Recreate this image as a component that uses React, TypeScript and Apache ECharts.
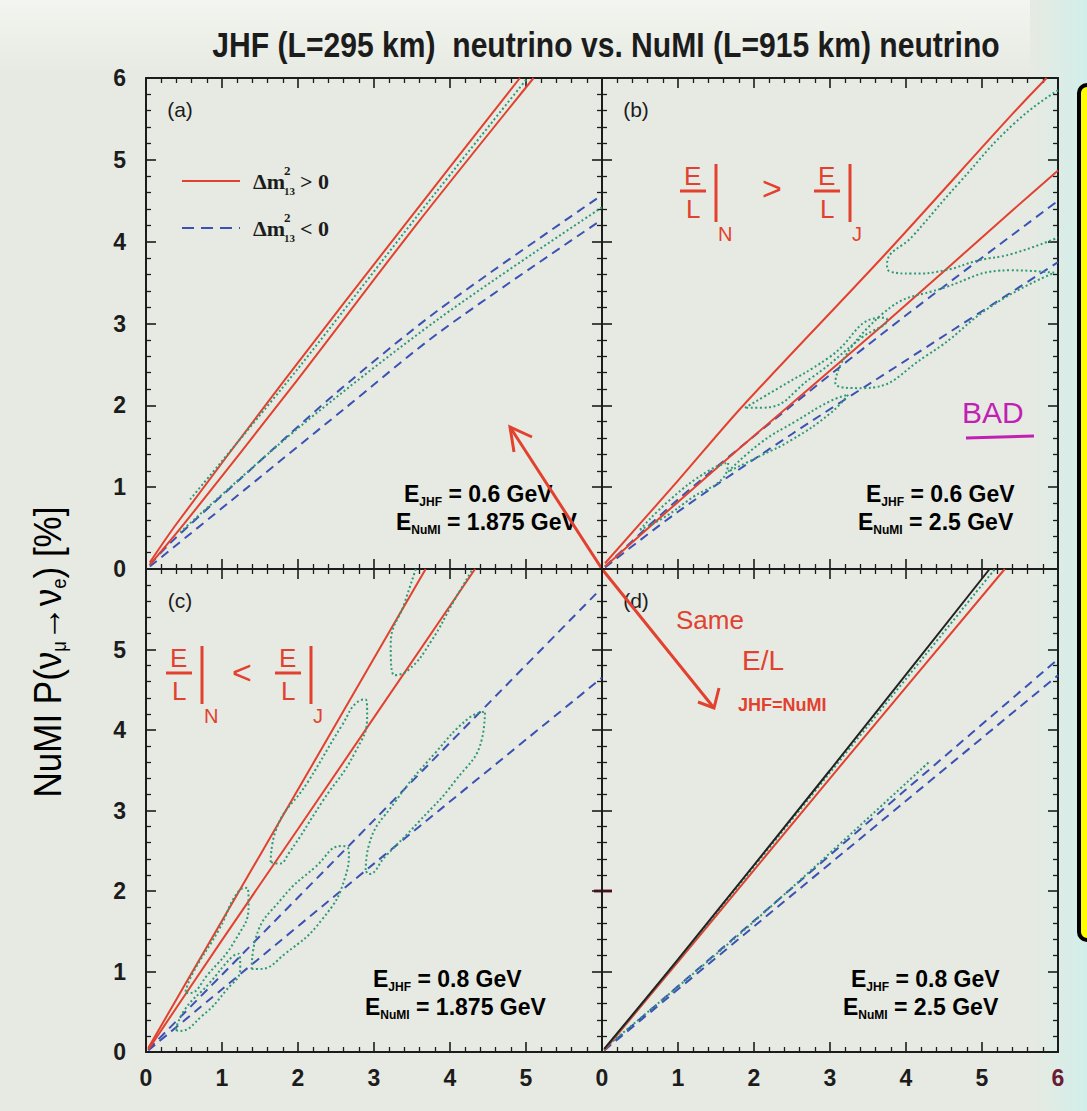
import React, { useEffect, useRef } from 'react';
import * as echarts from 'echarts';

// ---------------- data ----------------
const TITLE = 'JHF (L=295 km)  neutrino vs. NuMI (L=915 km) neutrino';
const PANEL_LABELS = ['(a)', '(b)', '(c)', '(d)'];
const E_JHF = ['0.6', '0.6', '0.8', '0.8'];
const E_NUMI = ['1.875', '2.5', '1.875', '2.5'];

// (a)
const A_RED_UP = [[0.05, 0.08], [0.4, 0.55], [1.8, 2.28], [3.4, 4.2], [4.92, 6]];
const A_RED_LO = [[0.05, 0.05], [0.5, 0.55], [1.9, 2.2], [3.55, 4.2], [5.1, 6]];
const A_GREEN_UP = [[0.58, 0.85], [2.0, 2.45], [3.6, 4.35], [5.02, 6]];
const A_BLUE_UP = [[0.05, 0.05], [0.3, 0.3], [1.24, 1.1], [2.5, 2.15], [3.87, 3.18], [6, 4.57]];
const A_BLUE_LO = [[0.05, 0.03], [1.3, 0.97], [2.6, 1.95], [3.87, 2.9], [6, 4.27]];
const A_GREEN_LO = [[0.45, 0.45], [2.0, 1.72], [3.87, 3.07], [6, 4.42]];

// (b)
const B_RED_UP = [[0.04, 0.07], [1.0, 1.08], [1.84, 1.98], [3.72, 3.84], [5.41, 5.57], [5.85, 6]];
const B_RED_LO = [[0.04, 0.03], [1.0, 0.82], [1.84, 1.5], [3.72, 3.0], [5.41, 4.39], [6, 4.87]];
const B_BLUE_UP = [[0.04, 0.03], [1.0, 0.85], [2.5, 2.0], [4.0, 3.1], [6, 4.5]];
const B_BLUE_LO = [[0.04, 0.02], [1.0, 0.7], [2.5, 1.65], [4.0, 2.55], [6, 3.75]];
const B_LOOP_1 = [[6, 5.85], [5.43, 5.45], [4.7, 4.72], [4.1, 4.08], [3.75, 3.72], [3.8, 3.63], [4.07, 3.61], [4.51, 3.65], [4.95, 3.77], [5.39, 3.85], [6, 4.05]];
const B_LOOP_2 = [[1.88, 1.97], [2.32, 2.21], [2.98, 2.58], [3.68, 3.07], [3.75, 3.05], [3.42, 2.83], [2.76, 2.34], [2.1, 1.97], [1.88, 1.97]];
const B_LOOP_3 = [[5.95, 3.62], [5.39, 3.65], [4.51, 3.44], [3.68, 3.11], [3.07, 2.27], [3.42, 2.21], [4.29, 2.62], [5.17, 3.24], [5.95, 3.62]];
const B_LOOP_4 = [[0.5, 0.48], [0.9, 0.85], [1.4, 1.2], [1.66, 1.3], [1.6, 1.12], [1.2, 0.88], [0.8, 0.62], [0.5, 0.48]];
const B_LOOP_5 = [[1.66, 1.19], [2.1, 1.55], [2.54, 1.8], [3.0, 2.05], [3.24, 2.13], [3.0, 1.9], [2.5, 1.58], [2.1, 1.39], [1.66, 1.19]];

// (c)
const C_RED_UP = [[0.03, 0.05], [1.0, 1.63], [2.0, 3.26], [3.68, 6]];
const C_RED_LO = [[0.03, 0.03], [1.0, 1.39], [2.0, 2.77], [4.33, 6]];
const C_BLUE_UP = [[0.03, 0.03], [1.0, 0.96], [3.0, 2.88], [5.96, 5.73]];
const C_BLUE_LO = [[0.03, 0.02], [1.0, 0.78], [3.0, 2.34], [6, 4.65]];
const C_LOOP_1 = [[3.55, 6], [3.41, 5.6], [3.22, 5.05], [3.27, 4.68], [3.46, 4.75], [3.75, 5.1], [4.05, 5.6], [4.3, 6]];
const C_LOOP_2 = [[1.64, 2.36], [1.7, 2.73], [2.14, 3.37], [2.58, 4.06], [2.8, 4.36], [2.89, 4.38], [2.91, 4.19], [2.75, 3.72], [2.32, 3.11], [1.88, 2.47], [1.75, 2.34], [1.64, 2.36]];
const C_LOOP_3 = [[2.89, 2.26], [2.93, 2.56], [3.28, 3.11], [3.81, 3.72], [4.25, 4.15], [4.46, 4.23], [4.42, 3.89], [4.07, 3.37], [3.59, 2.86], [3.15, 2.43], [2.93, 2.21], [2.89, 2.26]];
const C_LOOP_4 = [[1.39, 1.03], [1.44, 1.4], [1.79, 1.91], [2.23, 2.3], [2.58, 2.56], [2.67, 2.5], [2.62, 2.17], [2.32, 1.65], [1.83, 1.22], [1.48, 1.03], [1.39, 1.03]];
const C_LOOP_5 = [[0.52, 0.75], [0.61, 0.97], [0.96, 1.52], [1.22, 2.0], [1.33, 2.04], [1.35, 1.83], [1.18, 1.4], [0.82, 0.97], [0.56, 0.73], [0.52, 0.75]];
const C_LOOP_6 = [[0.39, 0.28], [0.52, 0.54], [0.82, 0.84], [1.13, 1.18], [1.22, 1.22], [1.24, 1.05], [1.04, 0.75], [0.74, 0.45], [0.43, 0.26], [0.39, 0.28]];

// (d)
const D_BLACK = [[0.03, 0.04], [1.0, 1.15], [3.0, 3.5], [5.1, 6]];
const D_GREEN_UP = [[0.03, 0.03], [1.0, 1.14], [3.0, 3.47], [5.17, 6]];
const D_RED = [[0.03, 0.02], [1.0, 1.12], [3.0, 3.4], [5.3, 6]];
const D_BLUE_UP = [[0.03, 0.03], [2.0, 1.63], [4.0, 3.26], [6, 4.88]];
const D_BLUE_LO = [[0.03, 0.02], [2.0, 1.56], [4.0, 3.12], [6, 4.68]];
const D_GREEN_LO = [[0.1, 0.1], [2.0, 1.62], [4.3, 3.6]];

// ---------------- styles ----------------
const BG = '#e7eae2';
const INK = '#1c1c1c';
const RED = '#e2412f';
const BLUE = '#3b52b4';
const GREEN = '#2e9877';
const BLACK = '#222222';
const PANELS = [
  { left: 146, top: 78, width: 456, height: 491 },
  { left: 602, top: 78, width: 456, height: 491 },
  { left: 146, top: 569, width: 456, height: 483 },
  { left: 602, top: 569, width: 456, height: 483 },
];
const ENERGY_POS = [[396, 494], [858, 494], [365, 979], [843, 979]];
const SANS = "'Liberation Sans', Arial, sans-serif";
const SERIF = "'Liberation Serif', 'DejaVu Serif', serif";

function tickAxis(extra: any) {
  return {
    type: 'value',
    min: 0,
    max: 6,
    interval: 1,
    axisLine: { show: true, onZero: false, lineStyle: { color: INK, width: 2 } },
    axisTick: { show: true, inside: true, length: 10, lineStyle: { color: INK, width: 1.6 } },
    minorTick: { show: true, splitNumber: 5, length: 5, lineStyle: { color: INK, width: 1.3 } },
    splitLine: { show: false },
    minorSplitLine: { show: false },
    axisLabel: { show: false },
    ...extra,
  };
}

const LABEL = { fontFamily: SANS, fontWeight: 'bold' as const, fontSize: 23, color: INK };

function series(g: number, data: number[][], kind: string, smooth = 0.3) {
  let lineStyle: any;
  if (kind === 'red') lineStyle = { color: RED, width: 2 };
  else if (kind === 'blue') lineStyle = { color: BLUE, width: 2, type: [9, 6] };
  else if (kind === 'green') lineStyle = { color: GREEN, width: 2, type: [2, 2.5] };
  else lineStyle = { color: BLACK, width: 2 };
  return {
    type: 'line',
    xAxisIndex: g * 2,
    yAxisIndex: g * 2,
    data,
    showSymbol: false,
    smooth,
    lineStyle,
    clip: true,
    silent: true,
  };
}

function energyText(i: number) {
  const [x, y] = ENERGY_POS[i];
  const b = { fontFamily: SANS, fontWeight: 'bold', fontSize: 23, color: INK, lineHeight: 28 };
  const s = { fontFamily: SANS, fontWeight: 'bold', fontSize: 12, color: INK, lineHeight: 11, verticalAlign: 'bottom' };
  return [
    {
      type: 'text', x: x + 8, y, style: {
        text: `{b|E}{s|JHF}{b| = ${E_JHF[i]} GeV}`, rich: { b, s }, align: 'left', verticalAlign: 'middle',
      },
    },
    {
      type: 'text', x, y: y + 28, style: {
        text: `{b|E}{s|NuMI}{b| = ${E_NUMI[i]} GeV}`, rich: { b, s }, align: 'left', verticalAlign: 'middle',
      },
    },
  ];
}

function hand(text: string, x: number, y: number, size: number, color = RED, extra: any = {}) {
  return {
    type: 'text', x, y,
    style: { text, fontFamily: SANS, fontSize: size, fill: color, align: 'left', verticalAlign: 'middle', ...extra },
  };
}

function fraction(x: number, y: number, sub: string) {
  const st = { stroke: RED, lineWidth: 3 };
  return [
    hand('E', x, y, 26),
    { type: 'line', shape: { x1: x - 4, y1: y + 15, x2: x + 22, y2: y + 15 }, style: st },
    hand('L', x + 2, y + 33, 26),
    { type: 'line', shape: { x1: x + 32, y1: y - 12, x2: x + 32, y2: y + 46 }, style: st },
    hand(sub, x + 34, y + 58, 20),
  ];
}

function arrow(x1: number, y1: number, x2: number, y2: number, h1: number[], h2: number[]) {
  const st = { stroke: RED, lineWidth: 3 };
  return [
    { type: 'line', shape: { x1, y1, x2, y2 }, style: st },
    { type: 'polyline', shape: { points: [h1, [x2, y2], h2] }, style: { ...st, fill: 'none' } },
  ];
}

function buildOption() {
  const grid = PANELS.map((p) => ({ ...p, containLabel: false }));
  const xAxis: any[] = [];
  const yAxis: any[] = [];
  for (let i = 0; i < 4; i++) {
    const bottomRow = i >= 2;
    const leftCol = i % 2 === 0;
    xAxis.push(tickAxis({
      gridIndex: i, position: 'bottom',
      axisLabel: bottomRow ? {
        show: true, ...LABEL, margin: 14,
        formatter: (v: number) => (i === 2 && v === 6 ? '' : i === 3 && v === 6 ? '{m|6}' : String(v)),
        rich: { m: { ...LABEL, color: '#6b1b33' } },
      } : { show: false },
    }));
    xAxis.push(tickAxis({ gridIndex: i, position: 'top' }));
    yAxis.push(tickAxis({
      gridIndex: i, position: 'left',
      axisLabel: leftCol ? {
        show: true, ...LABEL, margin: 20,
        formatter: (v: number) => (i === 2 && v === 6 ? '' : String(v)),
      } : { show: false },
    }));
    yAxis.push(tickAxis({ gridIndex: i, position: 'right' }));
  }

  const s: any[] = [
    series(0, A_BLUE_UP, 'blue'), series(0, A_BLUE_LO, 'blue'), series(0, A_GREEN_LO, 'green'),
    series(0, A_RED_UP, 'red'), series(0, A_RED_LO, 'red'), series(0, A_GREEN_UP, 'green'),

    series(1, B_BLUE_UP, 'blue'), series(1, B_BLUE_LO, 'blue'),
    series(1, B_RED_UP, 'red'), series(1, B_RED_LO, 'red'),
    series(1, B_LOOP_1, 'green', 0.5), series(1, B_LOOP_2, 'green', 0.5), series(1, B_LOOP_3, 'green', 0.5),
    series(1, B_LOOP_4, 'green', 0.5), series(1, B_LOOP_5, 'green', 0.5),

    series(2, C_BLUE_UP, 'blue'), series(2, C_BLUE_LO, 'blue'),
    series(2, C_RED_UP, 'red'), series(2, C_RED_LO, 'red'),
    series(2, C_LOOP_1, 'green', 0.5), series(2, C_LOOP_2, 'green', 0.5), series(2, C_LOOP_3, 'green', 0.5),
    series(2, C_LOOP_4, 'green', 0.5), series(2, C_LOOP_5, 'green', 0.5), series(2, C_LOOP_6, 'green', 0.5),

    series(3, D_BLUE_UP, 'blue'), series(3, D_BLUE_LO, 'blue'), series(3, D_GREEN_LO, 'green'),
    series(3, D_RED, 'red'), series(3, D_GREEN_UP, 'green'), series(3, D_BLACK, 'black'),
  ];

  const nm = { fontFamily: SANS, fontSize: 38, color: INK, lineHeight: 42 };
  const sb = { fontFamily: SANS, fontSize: 20, color: INK, lineHeight: 14, verticalAlign: 'bottom' };
  const legendT = { fontFamily: SERIF, fontSize: 22, fill: INK, fontWeight: 'bold' };

  const graphic: any[] = [
    // paper tones
    {
      type: 'rect', shape: { x: 0, y: 0, width: 1087, height: 75 }, z: -10,
      style: { fill: new echarts.graphic.LinearGradient(0, 0, 0, 1, [{ offset: 0, color: '#f3f5f0' }, { offset: 1, color: BG }]) },
    },
    {
      type: 'rect', shape: { x: 1030, y: 0, width: 57, height: 1111 }, z: -10,
      style: { fill: new echarts.graphic.LinearGradient(0, 0, 1, 0, [{ offset: 0, color: BG }, { offset: 1, color: '#d2eeea' }]) },
    },
    // title
    {
      type: 'text', x: 606, y: 45, scaleX: 0.86,
      style: { text: TITLE, fontFamily: SANS, fontWeight: 'bold', fontSize: 35, fill: INK, align: 'center', verticalAlign: 'middle' },
    },
    // y axis name
    {
      type: 'text', x: 48, y: 652, rotation: Math.PI / 2, scaleX: 0.92,
      style: {
        text: '{n|NuMI P(ν}{s|μ}{n|→ν}{s|e}{n|) [%]}', rich: { n: nm, s: sb },
        align: 'center', verticalAlign: 'middle',
      },
    },
    // panel labels
    ...PANEL_LABELS.map((t, i) => ({
      type: 'text', x: PANELS[i].left + 34, y: PANELS[i].top + 31,
      style: { text: t, fontFamily: SANS, fontSize: 21, fill: INK, align: 'center', verticalAlign: 'middle' },
    })),
    // legend (a)
    { type: 'line', shape: { x1: 182, y1: 181, x2: 240, y2: 181 }, style: { stroke: RED, lineWidth: 2 } },
    { type: 'line', shape: { x1: 182, y1: 228, x2: 240, y2: 228 }, style: { stroke: BLUE, lineWidth: 2, lineDash: [12, 7] } },
    { type: 'text', x: 253, y: 181, style: { text: 'Δm', ...legendT, align: 'left', verticalAlign: 'middle' } },
    { type: 'text', x: 284, y: 170, style: { text: '2', ...legendT, fontSize: 13, align: 'left', verticalAlign: 'middle' } },
    { type: 'text', x: 284, y: 191, style: { text: '13', ...legendT, fontSize: 11, align: 'left', verticalAlign: 'middle' } },
    { type: 'text', x: 300, y: 181, style: { text: '> 0', ...legendT, align: 'left', verticalAlign: 'middle' } },
    { type: 'text', x: 253, y: 228, style: { text: 'Δm', ...legendT, align: 'left', verticalAlign: 'middle' } },
    { type: 'text', x: 284, y: 217, style: { text: '2', ...legendT, fontSize: 13, align: 'left', verticalAlign: 'middle' } },
    { type: 'text', x: 284, y: 238, style: { text: '13', ...legendT, fontSize: 11, align: 'left', verticalAlign: 'middle' } },
    { type: 'text', x: 300, y: 228, style: { text: '< 0', ...legendT, align: 'left', verticalAlign: 'middle' } },
    // energies
    ...energyText(0),
    ...energyText(1),
    ...energyText(2),
    ...energyText(3),
    // maroon tick on the shared axis
    { type: 'line', shape: { x1: 594, y1: 891, x2: 612, y2: 891 }, style: { stroke: '#8b1a3a', lineWidth: 3 } },
    // handwritten annotations
    ...fraction(684, 176, 'N'),
    hand('>', 762, 188, 34),
    ...fraction(818, 176, 'J'),
    hand('BAD', 962, 412, 30, '#c21fb4'),
    { type: 'line', shape: { x1: 966, y1: 438, x2: 1034, y2: 436 }, style: { stroke: '#c21fb4', lineWidth: 3 } },
    ...fraction(170, 658, 'N'),
    hand('<', 232, 672, 34),
    ...fraction(279, 658, 'J'),
    hand('Same', 676, 620, 26),
    hand('E/L', 742, 660, 28),
    hand('JHF=NuMI', 738, 705, 18, RED, { fontWeight: 'bold' }),
    ...arrow(602, 569, 510, 427, [532, 437], [514, 452]),
    ...arrow(602, 569, 714, 708, [719, 688], [698, 702]),
    // yellow box at the right
    {
      type: 'rect', shape: { x: 1079, y: 85, width: 30, height: 855, r: 8 },
      style: { fill: '#ffff00', stroke: '#000', lineWidth: 4 },
    },
  ];

  return {
    animation: false,
    backgroundColor: BG,
    grid,
    xAxis,
    yAxis,
    series: s,
    graphic,
  };
}

export default function App() {
  const ref = useRef<HTMLDivElement>(null);
  useEffect(() => {
    const chart = echarts.init(ref.current!, null, { renderer: 'svg' });
    chart.setOption(buildOption() as any);
    return () => chart.dispose();
  }, []);
  return <div ref={ref} style={{ position: 'fixed', left: 0, top: 0, width: 1087, height: 1111 }} />;
}
